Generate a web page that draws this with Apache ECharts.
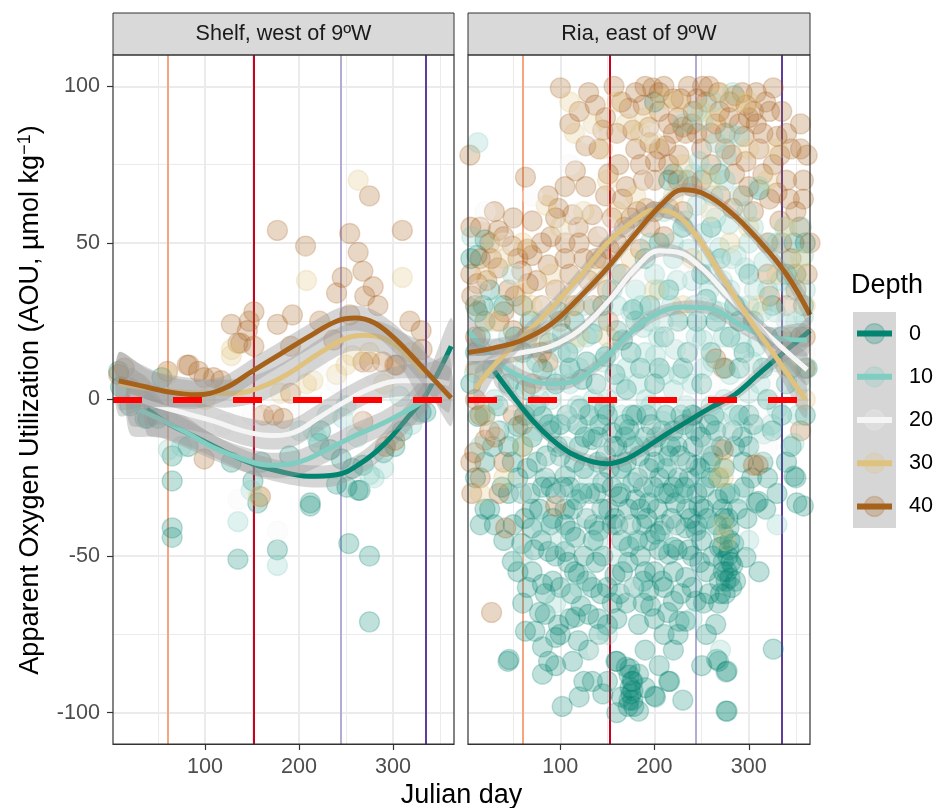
<!DOCTYPE html>
<html><head><meta charset="utf-8">
<script src="https://cdn.jsdelivr.net/npm/echarts@6/dist/echarts.min.js"></script>
<style>html,body{margin:0;padding:0;background:#fff}#c{width:935px;height:808px}</style>
</head><body><div id="c"></div>
<script>
// ---------- categories / ticks ----------
const panels = ['Shelf, west of 9ºW', 'Ria, east of 9ºW'];
const depths = ['0', '10', '20', '30', '40'];
const depthColors = ['#018571', '#80CDC1', '#F5F5F5', '#DFC27D', '#A6611A'];
const xTicks = [100, 200, 300];
const yTicks = [-100, -50, 0, 50, 100];
const xMajor = [100, 200, 300];
const xMinor = [50, 150, 250, 350];
const yMajor = [-100, -50, 0, 50, 100];
const yMinor = [-75, -25, 25, 75];
const seasonDays = [60, 152, 244, 335];
const seasonColors = ['#F4A582', '#CA0020', '#B2ABD2', '#5E3C99'];
const refLine = 0;
const xRange = [2, 365];
const yRange = [-110, 110];

// ---------- Shelf points [julian day, AOU] ----------
const shelf_pts_0 = [[65,-18],[65,-26],[65,-41],[65,-44],[135,-51],[177,-48],[212,-34],[253,-46],[275,-50],[275,-71],[151,-26],[263,-29],[251,-28],[268,-21],[240,-27],[223,-10],[221,-14],[302,-15],[82,-15],[50,-6],[36,-6],[128,-20],[330,-4],[245,-19],[39,-6],[335,-4],[233,-16],[257,-22],[265,-29],[212,-33],[156,-33],[54,7],[290,-17],[310,-10],[160,-20],[190,-18],[8,9],[10,4],[20,-2]];
const shelf_pts_10 = [[177,-53],[135,-39],[275,-24],[61,-16],[247,-6],[250,-2],[307,1],[215,-10],[219,-12],[149,-29],[75,-15],[201,-10],[280,-25],[40,-3],[320,-8],[230,-5],[290,-22],[262,-12]];
const shelf_pts_20 = [[100,3],[150,-5],[200,-2],[240,5],[280,8],[120,-8],[177,-42],[135,-32],[60,-5],[300,2],[330,5],[220,10],[260,-5],[90,-10],[170,0]];
const shelf_pts_30 = [[263,70],[208,38],[310,39],[128,14],[215,6],[257,14],[208,5],[128,16],[157,-31],[240,8],[290,5],[180,2],[320,15],[60,8],[30,5],[250,11],[275,15],[100,0]];
const shelf_pts_40 = [[177,54],[207,49],[254,53],[263,47],[310,54],[275,65],[246,39],[268,41],[279,36],[240,34],[270,33],[284,30],[254,27],[152,28],[147,25],[193,27],[128,24],[177,24],[145,22],[222,25],[318,25],[330,22],[135,18],[152,17],[191,17],[237,19],[83,11],[93,9],[275,12],[302,11],[331,16],[109,7],[8,8],[302,-13],[99,-19],[268,-7],[173,-5],[162,-5],[183,-6],[292,-15],[191,2],[268,12],[289,12],[304,11],[81,11],[99,7],[117,6],[14,10],[138,18],[159,-31],[60,9]];

// ---------- Ria points [julian day, AOU] ----------
const ria_pts_0 = [[20,51],[11.5,46],
[12.5,-5.4],[34,-2],[20,-20],[49,-20],[38,-28],[59,-30],[81,-28],[105,-24.5],[123,-30],[145,-26.5],[162,-31],[177,-26.5],[70,-35],[113,-35],[151,-35],[81,-5.4],[55,-8.6],[134,-12.8],[155,-10.6],[173,-9.6],[170,3.2],[123,6.4],[81,9.6],[63,3.2],[148,13.7],[166,19],[134,21],[102,21],[177,28.7],
[220,72],[269,72],[348,50],[311,67],
[194,-22],[215,-18],[241,-15],[244,-21],[194,-33],[222,-33],[247,-34],[351,-33],[308,-33],[348,-24.5],[294,-20],
[44.5,-83.6],[49,-51.7],[63,-74],[81,-59],[84,-68.6],[81,-79],[81,-87.7],[95,-76],[102,-98],[113,-83.6],[119,-77],[116,-69.5],[130,-68.6],[119,-55.8],[105,-48.5],[134,-60],[141,-75],[134,-90],[145,-94],[155,-65],[159,-83.6],[166,-55],[177,-90],[177,-96],[70,-55],[87.5,-48.5],[59,-46],[70,-41],[105,-40],[141,-42],[173,-47],[116,-44],[84,-62],[73,-74],[87.5,-83.6],[170,-85.5],[177,-93],
[297,-50.4],[311,-55],[326,-79.7],[268,-83.6],[276,-87],[276,-99.5],[265,-71.8],[255,-75],[244,-64.4],[233,-70.8],[226,-70.8],[220,-64.4],[233,-56.8],[215,-90],[201,-95],[230,-96],[183,-87.7],[183,-99.5],[269,-58],[273,-55],[273,-51.7],[269,-47.2],[273,-43],[188,-58],[194,-61],[188,-65],[215,-49.4],[220,-47.2],[201,-43],[233,-41],[255,-55],[244,-42],[183,-71.8],
[45.6,-83],[160,-83.6],[173,-88],[174,-92],[173,-96],[200,-94.7],[216,-90],[277,-99.5],[266,-83],[277,-86.7],[310,-32.5],[350,-25],[358,-34],
[278,-50],[280,-57],[282,-60],[275,-62],[280,-45],[278,-38],[275,-30],[272,-35],[270,-62],[283,-53],
[10,-25],[25,-35],[35,-10],[45,-30],[60,-15],[75,-20],[90,-10],[95,-30],[100,-18],[110,-28],[120,-15],[130,-5],[140,-20],[150,-5],[160,-15],[170,-20],[180,-5],[190,-12],[200,-20],[205,-25],[210,-40],[215,-30],[225,-25],[235,-20],[245,-30],[255,-15],[260,-25],[265,-10],[250,-45],[240,-50],[230,-30],[220,-55],[210,-60],[200,-55],[195,-45],[185,-35],[175,-40],[165,-45],[155,-40],[145,-50],[135,-45],[125,-50],[115,-55],[100,-60],[95,-50],[90,-40],[80,-45],[65,-60],[55,-55],[40,-45],[30,-40],[20,-35],[150,-60],[160,-70],[170,-65],[185,-50],[190,-80],[200,-70],[210,-75],[220,-80],[125,-90],[110,-70],[150,-90],[165,-95],
[185,10],[200,5],[210,20],[230,10],[245,25],[260,15],[280,20],[290,10],[300,-5],[320,0],[340,5],[355,20],[360,-5],[240,-5],[220,-10],[110,10],[95,5],[60,15],[40,30],[25,35],[15,20],[230,55],[205,50],[190,45],[250,40],[270,45],[285,30],[300,40],[320,20],[340,40],[360,50],[200,95],[215,70],[260,55],[320,-25],[340,-20],[330,-30],
[45,-15],[55,-25],[65,-22],[70,-12],[85,-18],[90,-28],[100,-8],[105,-35],[115,-20],[118,-8],[125,-22],[128,-38],[138,-30],[142,-8],[148,-18],[155,-28],[158,-38],[165,-22],[168,-8],[178,-15],[182,-25],[187,-40],[192,-5],[198,-15],[203,-35],[208,-10],[213,-22],[218,-38],[224,-15],[228,-5],[232,-28],[238,-38],[243,-10],[248,-22],[252,-35],[258,-8],[262,-18],[266,-40],[268,-25],[285,-15],[290,-5],[295,-28],[300,-15],[305,-8],[315,-20],[325,-10],[335,-5],[345,-15],[20,-5],[28,-15],[15,-40],[50,-40],[62,-38],
[60,-65],[72,-48],[78,-68],[92,-58],[98,-72],[108,-52],[112,-62],[122,-66],[128,-58],[138,-52],[143,-62],[150,-72],[158,-56],[163,-62],[172,-52],[178,-60],[182,-45],[190,-55],[196,-66],[205,-48],[208,-58],[214,-68],[224,-48],[228,-62],[236,-48],[240,-60],[248,-52],[252,-65],[258,-62],[262,-50],[268,-65],[272,-47],[279,-48],[281,-52],[277,-55],[276,-58],[279,-41],[274,-38],[284,-46],[286,-58],
[174,-86],[176,-90],[175,-94],[178,-98],[172,-98],
[5,5],[10,15],[18,30],[28,10],[45,5],[52,20],[68,25],[75,12],[88,18],[98,28],[108,15],[115,25],[128,12],[138,5],[145,30],[158,8],[160,22],[175,15],[180,25],[195,30],[205,10],[215,35],[225,25],[235,15],[250,5],[255,32],[265,25],[275,10],[290,25],[295,15],[305,25],[315,10],[325,30],[335,20],[345,10],[350,40],[358,30],[362,10],[5,45],[12,28],
[62,-5],[68,-30],[74,-2],[78,-35],[84,-25],[88,-8],[92,-38],[97,-15],[103,-28],[107,-5],[111,-42],[117,-32],[121,-3],[126,-12],[131,-30],[136,-40],[140,-12],[144,-35],[147,-3],[152,-22],[157,-15],[161,-40],[164,-30],[169,-12],[172,-35],[176,-5],[180,-32],[184,-18],[188,-28],[192,-38],[196,-8],[199,-28],[202,-12],[206,-42],[210,-30],[212,-5],[217,-15],[220,-28],[223,-40],[227,-18],[231,-8],[234,-35],[237,-25],[241,-5],[245,-40],[249,-12],[253,-28],[256,-38],[259,-20],[263,-5],[267,-32],[271,-15],[274,-22],[280,-30],[283,-10],[288,-35],[293,-12],[298,-38],[303,-25],[318,-35],[130,-80],[120,-95],[140,-70],[95,-85],[205,-85],[225,-75],[250,-85],[100,-75],[160,-100],[190,-92]];
const ria_pts_10 = [[12.5,82],[6,52],[49,40],[283,98],[251,89],[265,82],[290,84],[247,76],[276,78],[241,72],[262,65],[311,68],[305,55],[279,56],[330,50],[358,46],[337,44],[316,44],[287,46],[269,48.5],[251,53],[233,57],[20,24.5],[34,16],[9,8.6],[188,23],[209,24.5],[262,28.7],[358,26.5],[191,0],[220,3],[201,14],[222,16],[251,19],[273,20],[308,17],[330,12],[351,15],[209,-7],[233,-9],[269,-7],[294,-7],[316,-11],[348,-14],[109,-7],
[60,30],[80,25],[100,15],[120,10],[140,25],[160,30],[180,35],[200,40],[220,45],[240,38],[260,40],[280,35],[300,30],[320,35],[340,25],[360,35],[70,-5],[90,0],[110,5],[130,-10],[150,0],[170,10],[190,15],[210,8],[240,5],[260,-2],[280,8],[300,2],[330,-3],[355,5],[30,0],[50,-10],[15,-15],[40,10],[130,-25],[170,-25],[200,-30],[250,-25],[290,-30],[330,-40],[100,-45],[160,-50],[120,-60],[80,-40],[220,50],[245,62],[265,58],[300,50],[230,88],[280,85],[255,72],[160,40],[140,-45],
[10,30],[20,10],[35,30],[45,20],[55,5],[65,18],[75,-10],[85,8],[95,22],[105,-15],[115,18],[125,30],[135,0],[145,12],[155,35],[165,-5],[175,28],[185,-15],[195,25],[205,35],[212,-20],[218,30],[226,8],[236,48],[244,20],[252,10],[258,35],[268,28],[274,0],[282,45],[292,18],[298,60],[306,35],[312,5],[322,50],[328,28],[338,55],[345,35],[352,-5],[358,10],[185,-60],[150,-75],[95,-65],[60,-50],[240,-70],[210,-45],[270,-80],[230,70],[245,92],[262,95],[275,70],[290,65],[210,60],[195,50],
[62,10],[78,0],[92,-8],[104,8],[118,-2],[128,20],[142,-5],[152,15],[163,5],[172,-10],[182,5],[186,30],[196,-2],[204,20],[214,-12],[224,38],[234,-2],[242,30],[254,45],[262,12],[272,38],[284,-5],[288,30],[296,42],[304,12],[314,28],[324,-8],[334,38],[342,12],[350,25],[356,55],[230,-30],[180,-45],[120,-30],[260,-40],[300,-45]];
const ria_pts_20 = [[20,60],[40,50],[130,85],[120,60],[150,55],[180,40],[200,45],[220,20],[250,30],[270,40],[300,35],[320,25],[350,30],[100,20],[70,10],[50,0],[30,-10],[110,-5],[150,-15],[200,-10],[230,0],[260,5],[300,10],[330,5],[360,15],[90,-20],[130,-35],[170,-40],[140,-80],[230,-20],[280,-10],[320,-15],[70,65],[110,75],[190,70],
[15,35],[35,15],[55,40],[85,30],[105,55],[125,35],[145,5],[165,25],[185,-25],[205,25],[240,15],[255,-15],[285,45],[310,-5],[340,25],[220,-40],[175,-60],[100,-30],[60,-30],[260,60],[195,85],[230,40]];
const ria_pts_30 = [[110,95],[135,88],[160,95],[190,90],[210,96],[250,92],[270,98],[290,95],[125,60],[100,55],[85,62],[60,50],[40,45],[20,40],[150,70],[180,65],[200,82],[230,75],[260,70],[300,80],[320,70],[340,55],[355,45],[360,30],[330,40],[280,50],[240,45],[175,45],[140,40],[110,30],[80,20],[50,15],[30,25],[10,10],[273,-40],[273,-25],[269,-25],[273,-21],[275,-45],[150,20],[200,35],[230,30],[310,30],[340,10],[360,0],
[115,85],[145,80],[170,88],[185,85],[225,95],[265,90],[300,95],[330,80],[60,35],[30,50],[70,30],[90,40],[120,20],[160,60],[220,65],[260,60],[300,55],[350,40],[20,-5],[40,-25],[15,-30],[60,-15]];
const ria_pts_40 = [[100,99.5],[4,78],[63,71],[157,100],[137,94],[148,90],[127,81],[141,80],[116,73],[105,68],[87,65],[98,61],[127,68],[151,72],[166,64],[113,59],[70,57],[34,54],[49,49],[27,45],[70,46],[87,43],[59,41],[34,42],[12,37],[66,37],[105,50],[119,55],[134,59],[148,65],[162,75],[177,86],[173,93],
[198,99.5],[236,100],[251,100],[308,98],[326,99.5],[188,94],[220,96],[241,92],[269,92],[297,94],[322,92],[194,87],[230,87],[279,90],[308,88],[330,84],[212,81],[233,85],[311,80],[333,78],[201,76],[226,78],[297,76],[326,75],[358,70],[188,70],[294,65],[322,64],[343,64],[358,64],[283,61],[305,60],[333,57],[354,55],[215,61],[191,61],
[160,85],[180,80],[205,92],[215,88],[245,96],[260,85],[275,80],[290,88],[315,85],[340,70],[350,60],[365,50],[362,40],[345,45],[320,50],[300,68],[285,72],[260,75],[240,68],[200,70],[185,75],[170,68],[155,58],[140,52],[125,45],[110,40],[95,35],[80,30],[60,30],[40,28],[20,25],[10,20],[5,40],[15,55],[30,60],[50,58],[90,52],[75,38],[45,35],[130,38],[145,45],[160,50],[175,58],[195,55],[210,52],[230,60],
[205,98],[225,90],[255,95],[265,88],[285,97],[300,90],[245,85],[215,75],[250,80],[275,85],[195,82],[235,70],
[6,33],[52,33],[20,-13],[9,-17],[6,-30],[31,-12],[87,12],[151,25],[95,-34],[27,-68],[42,-41],[305,-21],[273,-16],[265,13],[273,10],[322,33],[310,-21],[5,-20],[15,-5],[40,-20],[60,-8],[70,5],[355,-10],[360,20],[340,30],[350,35],
[110,88],[120,92],[130,98],[145,86],[165,95],[180,98],[190,100],[210,100],[220,85],[228,96],[240,88],[258,100],[268,98],[280,95],[293,98],[305,92],[318,95],[335,92],[345,80],[355,88],[362,78],[340,85],[330,66],[315,72],[295,84],[282,78],[270,65],[250,70],[225,70],[205,80],[182,60],[168,55],[152,48],[138,45],[120,50],[105,45],[95,58],[80,50],[65,48],[55,45],[40,52],[25,50],[15,45],[5,55],[10,30],[22,38],[35,25],[50,22],[65,20],[80,15],[100,25],[115,30],[135,30],[150,35],[165,40],[185,48],[200,60],[355,80],[320,40],[335,50],[345,20],[360,10],[15,-25],[25,-10],[35,-30],[10,0],[50,-5]];

// ---------- smooth fits [day, AOU] and their half-band widths ----------
const shelf_fit_0 = [[38,-3],[60,-7.5],[90,-12],[120,-16.5],[150,-20.5],[180,-23],[210,-24.5],[240,-24],[265,-20.5],[290,-14.5],[315,-6],[335,1.5],[362,17]];
const shelf_se_0 = [8,5,4,3.5,3.5,3.5,3.5,3.5,3.5,4,4.5,5,9];
const shelf_fit_10 = [[20,-2],[50,-6],[80,-10.5],[110,-15.5],[140,-19],[170,-21],[200,-20],[230,-16],[260,-11.5],[290,-7.5],[315,-3.5],[335,0]];
const shelf_se_10 = [9,6,5,4,4,4,4,4,4,4,5,7];
const shelf_fit_20 = [[20,1],[50,-2],[80,-4.5],[110,-7],[140,-10],[170,-11.5],[195,-10.5],[220,-6],[250,-0.5],[280,4],[310,6],[340,6],[360,5]];
const shelf_se_20 = [9,6,5,4.5,4.5,4.5,4.5,4.5,4.5,4.5,5,6,9];
const shelf_fit_30 = [[8,5],[40,3.5],[70,2.5],[100,2],[130,2],[160,4],[190,8.5],[220,14.5],[250,19.5],[270,20.5],[290,19.5],[310,15.5],[333,8]];
const shelf_se_30 = [10,6,5,4.5,4.5,4.5,4.5,4.5,4.5,5,5,6,9];
const shelf_fit_40 = [[8,6],[30,4.5],[60,2.5],[90,1.5],[120,3.5],[150,9],[180,14.5],[210,20],[240,25],[260,26],[280,24.5],[300,20],[320,14],[340,7.5],[362,0.5]];
const shelf_se_40 = [9,7,5,4.5,4,4,4,4,4,4,4,4.5,5,6,9];

const ria_fit_0 = [[30,9],[50,1],[70,-6.5],[90,-12.5],[110,-17],[130,-19.5],[150,-20.5],[170,-19],[190,-15.5],[210,-11.5],[235,-7],[260,-2.5],[285,1.5],[310,8],[335,14.5],[365,22]];
const ria_se_0 = [4,2.5,2,2,2,2,2,2,2,2,2,2,2,2.5,3,4.5];
const ria_fit_10 = [[2,22],[30,13],[60,7],[90,5],[110,5.5],[140,11],[170,20],[200,27],[230,29.5],[260,29],[290,24],[320,20],[362,19]];
const ria_se_10 = [5,3,2.5,2,2,2,2,2,2,2,2.5,3,5];
const ria_fit_20 = [[2,13],[30,13.5],[60,15],[90,17],[120,22],[150,31],[180,42],[205,47.5],[225,47],[250,42],[275,34],[300,26.5],[330,18],[362,9.5]];
const ria_se_20 = [5,3,2.5,2,2,2,2,2,2,2,2,2.5,3,5];
const ria_fit_30 = [[10,3.5],[30,11],[60,20],[90,29],[120,39],[150,50],[180,57.5],[200,60.5],[220,59.5],[245,52],[270,40],[300,26],[330,13],[360,0]];
const ria_se_30 = [6,4,3,2.5,2.5,2.5,2.5,2.5,2.5,2.5,2.5,3,4,6];
const ria_fit_40 = [[2,15],[30,16.5],[60,19],[90,24],[120,32.5],[150,42],[180,53],[210,63],[230,67],[250,66],[280,60],[310,51],[340,40],[365,27]];
const ria_se_40 = [4,3,2.5,2,2,2,2,2,2,2,2,2.5,3,4];

// ---------- assembly ----------
const points = [
  [shelf_pts_0, shelf_pts_10, shelf_pts_20, shelf_pts_30, shelf_pts_40],
  [ria_pts_0, ria_pts_10, ria_pts_20, ria_pts_30, ria_pts_40]
];
const fits = [
  [shelf_fit_0, shelf_fit_10, shelf_fit_20, shelf_fit_30, shelf_fit_40],
  [ria_fit_0, ria_fit_10, ria_fit_20, ria_fit_30, ria_fit_40]
];
const ses = [
  [shelf_se_0, shelf_se_10, shelf_se_20, shelf_se_30, shelf_se_40],
  [ria_se_0, ria_se_10, ria_se_20, ria_se_30, ria_se_40]
];

const FONT = '"Liberation Sans", Arial, Helvetica, sans-serif';
const gridBoxes = [
  {left: 113, top: 55, width: 341, height: 689},
  {left: 468, top: 55, width: 342, height: 689}
];
const pointOrder = [0, 4, 1, 3, 2];

function rgba(hex, a) {
  const n = parseInt(hex.slice(1), 16);
  return 'rgba(' + ((n >> 16) & 255) + ',' + ((n >> 8) & 255) + ',' + (n & 255) + ',' + a + ')';
}

const grid = gridBoxes.map(g => Object.assign({show: true, backgroundColor: '#fff', borderWidth: 0}, g));
const xAxis = [0, 1].map(p => ({
  gridIndex: p, type: 'value', min: xRange[0], max: xRange[1],
  axisLine: {show: true, onZero: false, lineStyle: {color: '#333333', width: 1}},
  axisTick: {show: true, customValues: xTicks, length: 6, lineStyle: {color: '#333333', width: 1.2}},
  axisLabel: {show: true, customValues: xTicks, color: '#4D4D4D', fontSize: 21.6, fontFamily: FONT, margin: 12},
  splitLine: {show: false}
}));
const yAxis = [0, 1].map(p => ({
  gridIndex: p, type: 'value', min: yRange[0], max: yRange[1],
  axisLine: {show: false, onZero: false},
  axisTick: {show: p === 0, customValues: yTicks, length: 6, lineStyle: {color: '#333333', width: 1.2}},
  axisLabel: {show: p === 0, customValues: yTicks, color: '#4D4D4D', fontSize: 21.6, fontFamily: FONT, margin: 13},
  splitLine: {show: false}
}));

const series = [];
[0, 1].forEach(p => {
  const guides = [];
  xMinor.forEach(v => guides.push({xAxis: v, lineStyle: {color: '#EBEBEB', width: 1, type: 'solid'}}));
  yMinor.forEach(v => guides.push({yAxis: v, lineStyle: {color: '#EBEBEB', width: 1, type: 'solid'}}));
  xMajor.forEach(v => guides.push({xAxis: v, lineStyle: {color: '#EBEBEB', width: 2, type: 'solid'}}));
  yMajor.forEach(v => guides.push({yAxis: v, lineStyle: {color: '#EBEBEB', width: 2, type: 'solid'}}));
  seasonDays.forEach((d, i) => guides.push({xAxis: d, lineStyle: {color: seasonColors[i], width: 2, type: 'solid'}}));
  series.push({
    type: 'line', xAxisIndex: p, yAxisIndex: p, data: [], silent: true, z: 1,
    markLine: {silent: true, z: 1, symbol: ['none', 'none'], label: {show: false}, emphasis: {disabled: true},
      animation: false, lineStyle: {type: 'solid'}, data: guides}
  });

  pointOrder.forEach(k => {
    const c = depthColors[k];
    series.push({
      type: 'scatter', name: depths[k], xAxisIndex: p, yAxisIndex: p, data: points[p][k],
      symbol: 'circle', symbolSize: 20, silent: true, z: 5, clip: true,
      itemStyle: {color: c, opacity: 0.25, borderColor: c, borderWidth: 1.3}
    });
  });

  for (let k = 0; k < 5; k++) {
    const fit = fits[p][k], se = ses[p][k];
    series.push({
      type: 'custom', xAxisIndex: p, yAxisIndex: p, data: fit, silent: true, clip: true, z: 10 + 2 * k,
      encode: {x: 0, y: 1},
      renderItem: (params, api) => {
        if (params.dataIndex !== 0) return null;
        const up = fit.map((pt, j) => api.coord([pt[0], pt[1] + se[j]]));
        const lo = fit.map((pt, j) => api.coord([pt[0], pt[1] - se[j]])).reverse();
        return {type: 'polygon', shape: {points: up.concat(lo), smooth: 0.3},
          style: {fill: 'rgba(153,153,153,0.4)'}};
      }
    });
    series.push({
      type: 'line', xAxisIndex: p, yAxisIndex: p, data: fit, smooth: 0.4, symbol: 'none',
      silent: true, clip: true, z: 11 + 2 * k,
      lineStyle: {color: depthColors[k], width: 5}
    });
  }

  series.push({
    type: 'line', xAxisIndex: p, yAxisIndex: p, data: [], silent: true, z: 40,
    markLine: {silent: true, z: 40, symbol: ['none', 'none'], label: {show: false}, emphasis: {disabled: true},
      animation: false,
      data: [{yAxis: refLine, lineStyle: {color: '#FF0000', width: 6, type: [29, 31]}}]}
  });
});

// ---------- decorations: strips, panel borders, titles, legend ----------
const graphics = [];
gridBoxes.forEach((g, p) => {
  graphics.push({type: 'rect', z: 100, shape: {x: g.left, y: 13, width: g.width, height: 42},
    style: {fill: '#D9D9D9', stroke: '#333333', lineWidth: 1}});
  graphics.push({type: 'text', z: 101, x: g.left + g.width / 2, y: 34,
    style: {text: panels[p], fill: '#1A1A1A', fontSize: 21.6, fontFamily: FONT, align: 'center', verticalAlign: 'middle'}});
  graphics.push({type: 'rect', z: 100, shape: {x: g.left, y: g.top, width: g.width, height: g.height},
    style: {fill: null, stroke: '#333333', lineWidth: 1.2}});
});
graphics.push({type: 'text', z: 101, x: 31, y: 400, rotation: Math.PI / 2,
  style: {text: 'Apparent Oxygen Utilization (AOU, µmol kg{sup|−1})', fill: '#000', fontSize: 27, fontFamily: FONT,
    align: 'center', verticalAlign: 'middle',
    rich: {sup: {fontSize: 18, fontFamily: FONT, fill: '#000', verticalAlign: 'top', lineHeight: 30}}}});
graphics.push({type: 'text', z: 101, x: 461.5, y: 795.5,
  style: {text: 'Julian day', fill: '#000', fontSize: 27, fontFamily: FONT, align: 'center', verticalAlign: 'middle'}});

graphics.push({type: 'text', z: 101, x: 851, y: 285.5,
  style: {text: 'Depth', fill: '#000', fontSize: 27, fontFamily: FONT, align: 'left', verticalAlign: 'middle'}});
const keyTop = 312, keyH = 43.2;
graphics.push({type: 'rect', z: 100, shape: {x: 853, y: keyTop, width: 43, height: keyH * 5},
  style: {fill: '#D6D6D6'}});
depths.forEach((d, k) => {
  const cy = keyTop + keyH * (k + 0.5);
  graphics.push({type: 'circle', z: 101, shape: {cx: 874.5, cy: cy, r: 10},
    style: {fill: rgba(depthColors[k], 0.25), stroke: rgba(depthColors[k], 0.25), lineWidth: 1.3}});
  graphics.push({type: 'line', z: 102, shape: {x1: 857, y1: cy, x2: 892, y2: cy},
    style: {stroke: depthColors[k], lineWidth: 6}});
  graphics.push({type: 'text', z: 101, x: 909, y: cy,
    style: {text: d, fill: '#000', fontSize: 21.6, fontFamily: FONT, align: 'left', verticalAlign: 'middle'}});
});

const chart = echarts.init(document.getElementById('c'), null, {renderer: 'canvas'});
chart.setOption({
  animation: false,
  backgroundColor: '#fff',
  grid: grid,
  xAxis: xAxis,
  yAxis: yAxis,
  series: series,
  graphic: {elements: graphics}
});
</script></body></html>
